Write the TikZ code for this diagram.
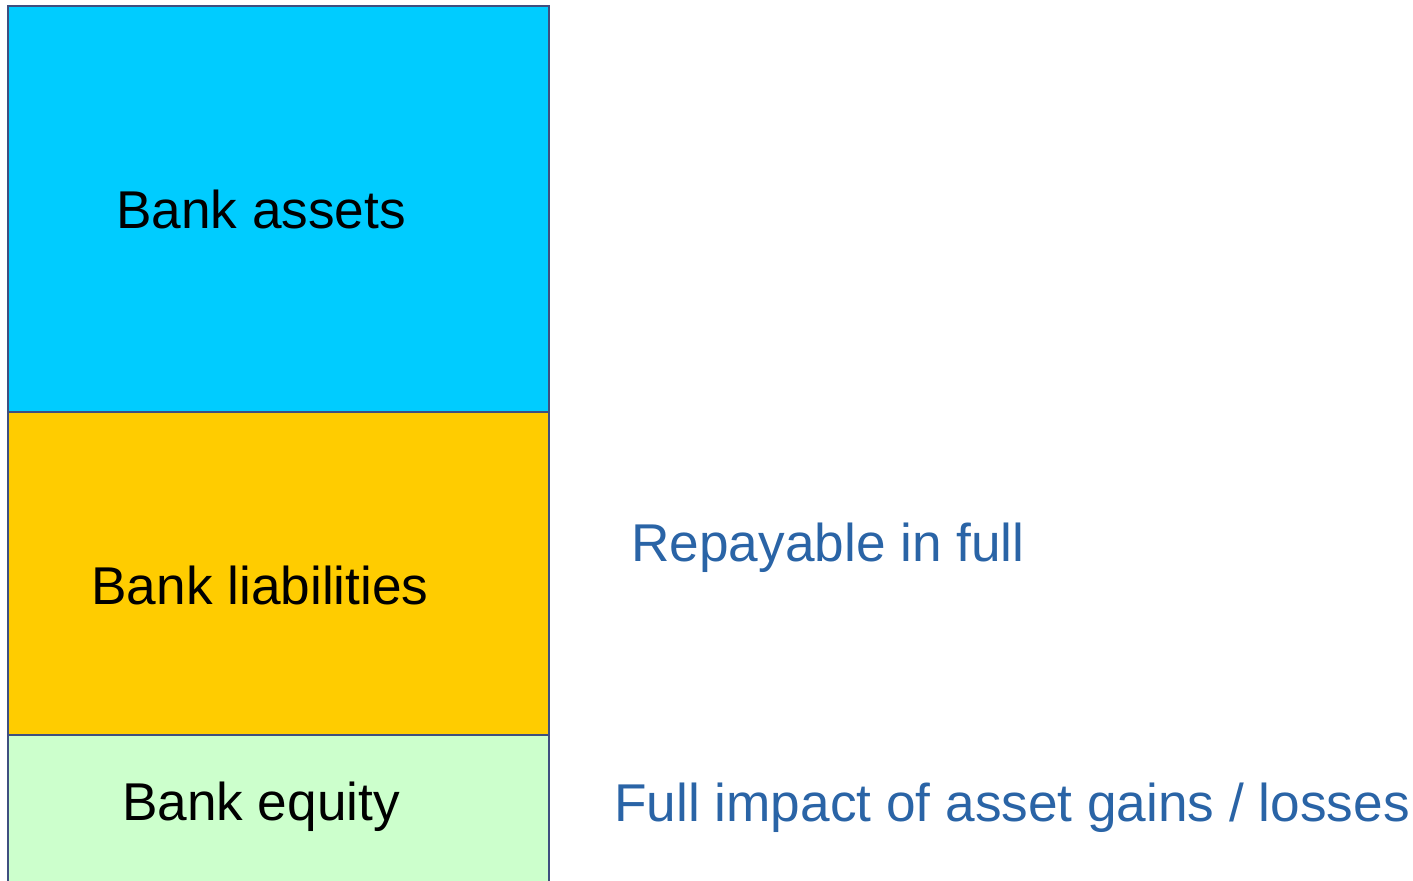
\documentclass[tikz,border=0pt]{standalone}
\usepackage{fontspec}
\setmainfont{Liberation Sans}
\definecolor{edge}{HTML}{3F4F7F}
\definecolor{assetc}{HTML}{00CCFF}
\definecolor{liabc}{HTML}{FFCC00}
\definecolor{equityc}{HTML}{CCFFCC}
\definecolor{notec}{HTML}{2A64A6}
\tikzset{
  part/.style={draw=edge, line width=1.3pt},
  boxlabel/.style={font=\fontsize{26.6}{32}\selectfont, text=black, inner sep=0pt, anchor=base},
  notelabel/.style={font=\fontsize{26.6}{32}\selectfont, text=notec, inner sep=0pt, anchor=base west}
}
\begin{document}
\begin{tikzpicture}[x=0.5pt, y=-0.5pt]
\useasboundingbox (0,0) rectangle (1413,880);
\clip (0,0) rectangle (1413,880);
\fill[assetc] (8,6) rectangle (549,412);
\fill[liabc] (8,412) rectangle (549,735);
\fill[equityc] (8,735) rectangle (549,900);
\draw[part] (8,900) -- (8,6) -- (549,6) -- (549,900);
\draw[part] (8,412) -- (549,412);
\draw[part] (8,735) -- (549,735);
\node[boxlabel] (assets) at (261,228) {Bank assets};
\node[boxlabel] (liab) at (260,604) {Bank liabilities};
\node[boxlabel] (equity) at (261,820) {Bank equity};
\node[notelabel] (repay) at (631,561) {Repayable in full};
\node[notelabel] (impact) at (614,821) {Full impact of asset gains / losses};
\end{tikzpicture}
\end{document}
